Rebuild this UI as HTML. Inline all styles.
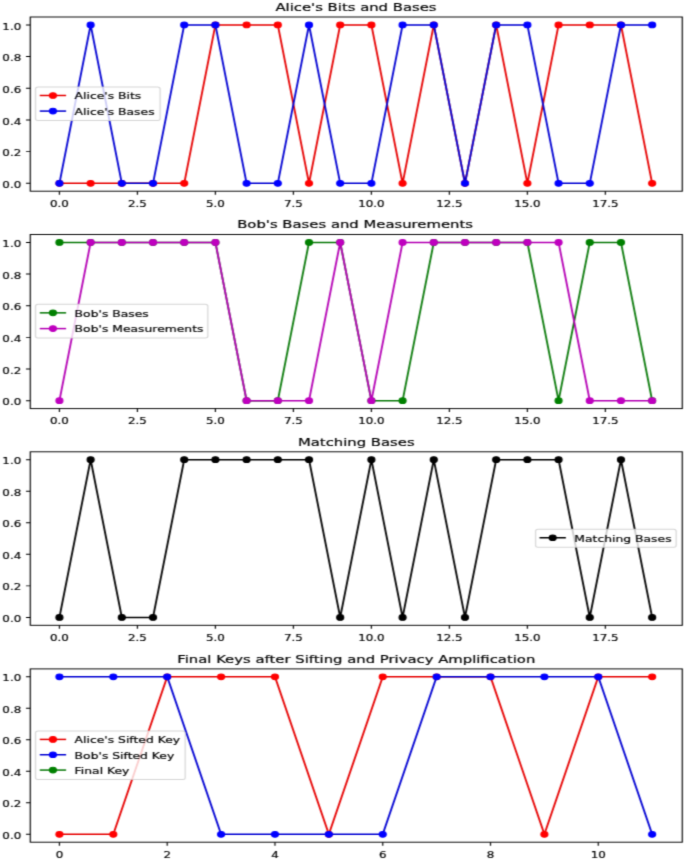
<!DOCTYPE html>
<html lang="en"><head><meta charset="utf-8"><title>BB84 Quantum Key Distribution Plots</title>
<style>
html,body{margin:0;padding:0;background:#fff}
body{width:685px;height:862px;overflow:hidden}
svg{display:block}
svg text{font-family:"DejaVu Sans","Liberation Sans",sans-serif;fill:#000;stroke:#000;stroke-width:0.2}
</style></head><body>
<svg width="685" height="862" viewBox="0 0 559.64 862" preserveAspectRatio="none">
<rect x="0" y="0" width="559.64" height="862" fill="#fff"/>
<filter id="soft" x="0" y="0" width="559.64" height="862" filterUnits="userSpaceOnUse" color-interpolation-filters="sRGB"><feConvolveMatrix order="3" kernelMatrix="0.0260 0.0780 0.0260 0.1480 0.4440 0.1480 0.0260 0.0780 0.0260" edgeMode="duplicate" preserveAlpha="false"/></filter><g filter="url(#soft)">
<g>
<clipPath id="c0"><rect x="24.75" y="17" width="532.68" height="174.2"/></clipPath>
<path d="M48.56 191.2v3.5M112.28 191.2v3.5M175.99 191.2v3.5M239.71 191.2v3.5M303.43 191.2v3.5M367.15 191.2v3.5M430.87 191.2v3.5M494.58 191.2v3.5M24.75 183.28h-3.5M24.75 151.61h-3.5M24.75 119.94h-3.5M24.75 88.26h-3.5M24.75 56.59h-3.5M24.75 24.92h-3.5" stroke="#000" stroke-width="0.95" fill="none"/>
<text transform="translate(48.56 206.9) scale(0.97 0.91)" font-size="10" text-anchor="middle">0.0</text>
<text transform="translate(112.28 206.9) scale(0.97 0.91)" font-size="10" text-anchor="middle">2.5</text>
<text transform="translate(175.99 206.9) scale(0.97 0.91)" font-size="10" text-anchor="middle">5.0</text>
<text transform="translate(239.71 206.9) scale(0.97 0.91)" font-size="10" text-anchor="middle">7.5</text>
<text transform="translate(303.43 206.9) scale(0.97 0.91)" font-size="10" text-anchor="middle">10.0</text>
<text transform="translate(367.15 206.9) scale(0.97 0.91)" font-size="10" text-anchor="middle">12.5</text>
<text transform="translate(430.87 206.9) scale(0.97 0.91)" font-size="10" text-anchor="middle">15.0</text>
<text transform="translate(494.58 206.9) scale(0.97 0.91)" font-size="10" text-anchor="middle">17.5</text>
<text transform="translate(17.35 187.88) scale(0.97 0.91)" font-size="10" text-anchor="end">0.0</text>
<text transform="translate(17.35 156.21) scale(0.97 0.91)" font-size="10" text-anchor="end">0.2</text>
<text transform="translate(17.35 124.54) scale(0.97 0.91)" font-size="10" text-anchor="end">0.4</text>
<text transform="translate(17.35 92.86) scale(0.97 0.91)" font-size="10" text-anchor="end">0.6</text>
<text transform="translate(17.35 61.19) scale(0.97 0.91)" font-size="10" text-anchor="end">0.8</text>
<text transform="translate(17.35 29.52) scale(0.97 0.91)" font-size="10" text-anchor="end">1.0</text>
<g clip-path="url(#c0)">
<path d="M48.56 183.28 L74.05 183.28 L99.53 183.28 L125.02 183.28 L150.51 183.28 L175.99 24.92 L201.48 24.92 L226.97 24.92 L252.46 183.28 L277.94 24.92 L303.43 24.92 L328.92 183.28 L354.4 24.92 L379.89 183.28 L405.38 24.92 L430.87 183.28 L456.35 24.92 L481.84 24.92 L507.33 24.92 L532.81 183.28" stroke="#e60000" stroke-width="1.5" fill="none" stroke-linejoin="round" stroke-linecap="square"/>
<g fill="#ff0000" stroke="#ff0000" stroke-width="1"><circle cx="48.56" cy="183.28" r="2.85"/><circle cx="74.05" cy="183.28" r="2.85"/><circle cx="99.53" cy="183.28" r="2.85"/><circle cx="125.02" cy="183.28" r="2.85"/><circle cx="150.51" cy="183.28" r="2.85"/><circle cx="175.99" cy="24.92" r="2.85"/><circle cx="201.48" cy="24.92" r="2.85"/><circle cx="226.97" cy="24.92" r="2.85"/><circle cx="252.46" cy="183.28" r="2.85"/><circle cx="277.94" cy="24.92" r="2.85"/><circle cx="303.43" cy="24.92" r="2.85"/><circle cx="328.92" cy="183.28" r="2.85"/><circle cx="354.4" cy="24.92" r="2.85"/><circle cx="379.89" cy="183.28" r="2.85"/><circle cx="405.38" cy="24.92" r="2.85"/><circle cx="430.87" cy="183.28" r="2.85"/><circle cx="456.35" cy="24.92" r="2.85"/><circle cx="481.84" cy="24.92" r="2.85"/><circle cx="507.33" cy="24.92" r="2.85"/><circle cx="532.81" cy="183.28" r="2.85"/></g>
<path d="M48.56 183.28 L74.05 24.92 L99.53 183.28 L125.02 183.28 L150.51 24.92 L175.99 24.92 L201.48 183.28 L226.97 183.28 L252.46 24.92 L277.94 183.28 L303.43 183.28 L328.92 24.92 L354.4 24.92 L379.89 183.28 L405.38 24.92 L430.87 24.92 L456.35 183.28 L481.84 183.28 L507.33 24.92 L532.81 24.92" stroke="#0000d2" stroke-width="1.5" fill="none" stroke-linejoin="round" stroke-linecap="square"/>
<g fill="#0000ff" stroke="#0000ff" stroke-width="1"><circle cx="48.56" cy="183.28" r="2.85"/><circle cx="74.05" cy="24.92" r="2.85"/><circle cx="99.53" cy="183.28" r="2.85"/><circle cx="125.02" cy="183.28" r="2.85"/><circle cx="150.51" cy="24.92" r="2.85"/><circle cx="175.99" cy="24.92" r="2.85"/><circle cx="201.48" cy="183.28" r="2.85"/><circle cx="226.97" cy="183.28" r="2.85"/><circle cx="252.46" cy="24.92" r="2.85"/><circle cx="277.94" cy="183.28" r="2.85"/><circle cx="303.43" cy="183.28" r="2.85"/><circle cx="328.92" cy="24.92" r="2.85"/><circle cx="354.4" cy="24.92" r="2.85"/><circle cx="379.89" cy="183.28" r="2.85"/><circle cx="405.38" cy="24.92" r="2.85"/><circle cx="430.87" cy="24.92" r="2.85"/><circle cx="456.35" cy="183.28" r="2.85"/><circle cx="481.84" cy="183.28" r="2.85"/><circle cx="507.33" cy="24.92" r="2.85"/><circle cx="532.81" cy="24.92" r="2.85"/></g>
</g>
<rect x="24.75" y="17" width="532.68" height="174.2" fill="none" stroke="#000" stroke-width="0.95" stroke-linejoin="miter"/>
<text transform="translate(290.85 10.9) scale(1.01 0.91)" font-size="12" text-anchor="middle">Alice's Bits and Bases</text>
<rect x="29.02" y="87" width="101.78" height="33.6" rx="2" ry="2" fill="#fff" fill-opacity="0.8" stroke="#ccc" stroke-opacity="0.8" stroke-width="1"/>
<path d="M33.26 95.48L53.26 95.48" stroke="#e60000" stroke-width="1.5" stroke-linecap="square"/>
<circle cx="43.26" cy="95.48" r="2.85" fill="#ff0000" stroke="#ff0000" stroke-width="1"/>
<path d="M33.26 111.08L53.26 111.08" stroke="#0000d2" stroke-width="1.5" stroke-linecap="square"/>
<circle cx="43.26" cy="111.08" r="2.85" fill="#0000ff" stroke="#0000ff" stroke-width="1"/>
<text transform="translate(60.96 99.3) scale(1.01 0.91)" font-size="10" text-anchor="start">Alice's Bits</text>
<text transform="translate(60.96 114.9) scale(1.01 0.91)" font-size="10" text-anchor="start">Alice's Bases</text>
</g>
<g>
<clipPath id="c1"><rect x="24.75" y="234.5" width="532.68" height="174.1"/></clipPath>
<path d="M48.56 408.6v3.5M112.28 408.6v3.5M175.99 408.6v3.5M239.71 408.6v3.5M303.43 408.6v3.5M367.15 408.6v3.5M430.87 408.6v3.5M494.58 408.6v3.5M24.75 400.69h-3.5M24.75 369.03h-3.5M24.75 337.38h-3.5M24.75 305.72h-3.5M24.75 274.07h-3.5M24.75 242.41h-3.5" stroke="#000" stroke-width="0.95" fill="none"/>
<text transform="translate(48.56 424.3) scale(0.97 0.91)" font-size="10" text-anchor="middle">0.0</text>
<text transform="translate(112.28 424.3) scale(0.97 0.91)" font-size="10" text-anchor="middle">2.5</text>
<text transform="translate(175.99 424.3) scale(0.97 0.91)" font-size="10" text-anchor="middle">5.0</text>
<text transform="translate(239.71 424.3) scale(0.97 0.91)" font-size="10" text-anchor="middle">7.5</text>
<text transform="translate(303.43 424.3) scale(0.97 0.91)" font-size="10" text-anchor="middle">10.0</text>
<text transform="translate(367.15 424.3) scale(0.97 0.91)" font-size="10" text-anchor="middle">12.5</text>
<text transform="translate(430.87 424.3) scale(0.97 0.91)" font-size="10" text-anchor="middle">15.0</text>
<text transform="translate(494.58 424.3) scale(0.97 0.91)" font-size="10" text-anchor="middle">17.5</text>
<text transform="translate(17.35 405.29) scale(0.97 0.91)" font-size="10" text-anchor="end">0.0</text>
<text transform="translate(17.35 373.63) scale(0.97 0.91)" font-size="10" text-anchor="end">0.2</text>
<text transform="translate(17.35 341.98) scale(0.97 0.91)" font-size="10" text-anchor="end">0.4</text>
<text transform="translate(17.35 310.32) scale(0.97 0.91)" font-size="10" text-anchor="end">0.6</text>
<text transform="translate(17.35 278.67) scale(0.97 0.91)" font-size="10" text-anchor="end">0.8</text>
<text transform="translate(17.35 247.01) scale(0.97 0.91)" font-size="10" text-anchor="end">1.0</text>
<g clip-path="url(#c1)">
<path d="M48.56 242.41 L74.05 242.41 L99.53 242.41 L125.02 242.41 L150.51 242.41 L175.99 242.41 L201.48 400.69 L226.97 400.69 L252.46 242.41 L277.94 242.41 L303.43 400.69 L328.92 400.69 L354.4 242.41 L379.89 242.41 L405.38 242.41 L430.87 242.41 L456.35 400.69 L481.84 242.41 L507.33 242.41 L532.81 400.69" stroke="#0a7a0a" stroke-width="1.5" fill="none" stroke-linejoin="round" stroke-linecap="square"/>
<g fill="#008000" stroke="#008000" stroke-width="1"><circle cx="48.56" cy="242.41" r="2.85"/><circle cx="74.05" cy="242.41" r="2.85"/><circle cx="99.53" cy="242.41" r="2.85"/><circle cx="125.02" cy="242.41" r="2.85"/><circle cx="150.51" cy="242.41" r="2.85"/><circle cx="175.99" cy="242.41" r="2.85"/><circle cx="201.48" cy="400.69" r="2.85"/><circle cx="226.97" cy="400.69" r="2.85"/><circle cx="252.46" cy="242.41" r="2.85"/><circle cx="277.94" cy="242.41" r="2.85"/><circle cx="303.43" cy="400.69" r="2.85"/><circle cx="328.92" cy="400.69" r="2.85"/><circle cx="354.4" cy="242.41" r="2.85"/><circle cx="379.89" cy="242.41" r="2.85"/><circle cx="405.38" cy="242.41" r="2.85"/><circle cx="430.87" cy="242.41" r="2.85"/><circle cx="456.35" cy="400.69" r="2.85"/><circle cx="481.84" cy="242.41" r="2.85"/><circle cx="507.33" cy="242.41" r="2.85"/><circle cx="532.81" cy="400.69" r="2.85"/></g>
<path d="M48.56 400.69 L74.05 242.41 L99.53 242.41 L125.02 242.41 L150.51 242.41 L175.99 242.41 L201.48 400.69 L226.97 400.69 L252.46 400.69 L277.94 242.41 L303.43 400.69 L328.92 242.41 L354.4 242.41 L379.89 242.41 L405.38 242.41 L430.87 242.41 L456.35 242.41 L481.84 400.69 L507.33 400.69 L532.81 400.69" stroke="#b400b4" stroke-width="1.5" fill="none" stroke-linejoin="round" stroke-linecap="square"/>
<g fill="#bf00bf" stroke="#bf00bf" stroke-width="1"><circle cx="48.56" cy="400.69" r="2.85"/><circle cx="74.05" cy="242.41" r="2.85"/><circle cx="99.53" cy="242.41" r="2.85"/><circle cx="125.02" cy="242.41" r="2.85"/><circle cx="150.51" cy="242.41" r="2.85"/><circle cx="175.99" cy="242.41" r="2.85"/><circle cx="201.48" cy="400.69" r="2.85"/><circle cx="226.97" cy="400.69" r="2.85"/><circle cx="252.46" cy="400.69" r="2.85"/><circle cx="277.94" cy="242.41" r="2.85"/><circle cx="303.43" cy="400.69" r="2.85"/><circle cx="328.92" cy="242.41" r="2.85"/><circle cx="354.4" cy="242.41" r="2.85"/><circle cx="379.89" cy="242.41" r="2.85"/><circle cx="405.38" cy="242.41" r="2.85"/><circle cx="430.87" cy="242.41" r="2.85"/><circle cx="456.35" cy="242.41" r="2.85"/><circle cx="481.84" cy="400.69" r="2.85"/><circle cx="507.33" cy="400.69" r="2.85"/><circle cx="532.81" cy="400.69" r="2.85"/></g>
</g>
<rect x="24.75" y="234.5" width="532.68" height="174.1" fill="none" stroke="#000" stroke-width="0.95" stroke-linejoin="miter"/>
<text transform="translate(290.11 228.4) scale(1.01 0.91)" font-size="12" text-anchor="middle">Bob's Bases and Measurements</text>
<rect x="29.02" y="304.37" width="140.78" height="33.75" rx="2" ry="2" fill="#fff" fill-opacity="0.8" stroke="#ccc" stroke-opacity="0.8" stroke-width="1"/>
<path d="M33.26 312.85L53.26 312.85" stroke="#0a7a0a" stroke-width="1.5" stroke-linecap="square"/>
<circle cx="43.26" cy="312.85" r="2.85" fill="#008000" stroke="#008000" stroke-width="1"/>
<path d="M33.26 328.6L53.26 328.6" stroke="#b400b4" stroke-width="1.5" stroke-linecap="square"/>
<circle cx="43.26" cy="328.6" r="2.85" fill="#bf00bf" stroke="#bf00bf" stroke-width="1"/>
<text transform="translate(60.96 316.67) scale(1.01 0.91)" font-size="10" text-anchor="start">Bob's Bases</text>
<text transform="translate(60.96 332.42) scale(1.01 0.91)" font-size="10" text-anchor="start">Bob's Measurements</text>
</g>
<g>
<clipPath id="c2"><rect x="24.75" y="451.8" width="532.68" height="173.5"/></clipPath>
<path d="M48.56 625.3v3.5M112.28 625.3v3.5M175.99 625.3v3.5M239.71 625.3v3.5M303.43 625.3v3.5M367.15 625.3v3.5M430.87 625.3v3.5M494.58 625.3v3.5M24.75 617.41h-3.5M24.75 585.87h-3.5M24.75 554.32h-3.5M24.75 522.78h-3.5M24.75 491.23h-3.5M24.75 459.69h-3.5" stroke="#000" stroke-width="0.95" fill="none"/>
<text transform="translate(48.56 641) scale(0.97 0.91)" font-size="10" text-anchor="middle">0.0</text>
<text transform="translate(112.28 641) scale(0.97 0.91)" font-size="10" text-anchor="middle">2.5</text>
<text transform="translate(175.99 641) scale(0.97 0.91)" font-size="10" text-anchor="middle">5.0</text>
<text transform="translate(239.71 641) scale(0.97 0.91)" font-size="10" text-anchor="middle">7.5</text>
<text transform="translate(303.43 641) scale(0.97 0.91)" font-size="10" text-anchor="middle">10.0</text>
<text transform="translate(367.15 641) scale(0.97 0.91)" font-size="10" text-anchor="middle">12.5</text>
<text transform="translate(430.87 641) scale(0.97 0.91)" font-size="10" text-anchor="middle">15.0</text>
<text transform="translate(494.58 641) scale(0.97 0.91)" font-size="10" text-anchor="middle">17.5</text>
<text transform="translate(17.35 622.01) scale(0.97 0.91)" font-size="10" text-anchor="end">0.0</text>
<text transform="translate(17.35 590.47) scale(0.97 0.91)" font-size="10" text-anchor="end">0.2</text>
<text transform="translate(17.35 558.92) scale(0.97 0.91)" font-size="10" text-anchor="end">0.4</text>
<text transform="translate(17.35 527.38) scale(0.97 0.91)" font-size="10" text-anchor="end">0.6</text>
<text transform="translate(17.35 495.83) scale(0.97 0.91)" font-size="10" text-anchor="end">0.8</text>
<text transform="translate(17.35 464.29) scale(0.97 0.91)" font-size="10" text-anchor="end">1.0</text>
<g clip-path="url(#c2)">
<path d="M48.56 617.41 L74.05 459.69 L99.53 617.41 L125.02 617.41 L150.51 459.69 L175.99 459.69 L201.48 459.69 L226.97 459.69 L252.46 459.69 L277.94 617.41 L303.43 459.69 L328.92 617.41 L354.4 459.69 L379.89 617.41 L405.38 459.69 L430.87 459.69 L456.35 459.69 L481.84 617.41 L507.33 459.69 L532.81 617.41" stroke="#000000" stroke-width="1.5" fill="none" stroke-linejoin="round" stroke-linecap="square"/>
<g fill="#000000" stroke="#000000" stroke-width="1"><circle cx="48.56" cy="617.41" r="2.85"/><circle cx="74.05" cy="459.69" r="2.85"/><circle cx="99.53" cy="617.41" r="2.85"/><circle cx="125.02" cy="617.41" r="2.85"/><circle cx="150.51" cy="459.69" r="2.85"/><circle cx="175.99" cy="459.69" r="2.85"/><circle cx="201.48" cy="459.69" r="2.85"/><circle cx="226.97" cy="459.69" r="2.85"/><circle cx="252.46" cy="459.69" r="2.85"/><circle cx="277.94" cy="617.41" r="2.85"/><circle cx="303.43" cy="459.69" r="2.85"/><circle cx="328.92" cy="617.41" r="2.85"/><circle cx="354.4" cy="459.69" r="2.85"/><circle cx="379.89" cy="617.41" r="2.85"/><circle cx="405.38" cy="459.69" r="2.85"/><circle cx="430.87" cy="459.69" r="2.85"/><circle cx="456.35" cy="459.69" r="2.85"/><circle cx="481.84" cy="617.41" r="2.85"/><circle cx="507.33" cy="459.69" r="2.85"/><circle cx="532.81" cy="617.41" r="2.85"/></g>
</g>
<rect x="24.75" y="451.8" width="532.68" height="173.5" fill="none" stroke="#000" stroke-width="0.95" stroke-linejoin="miter"/>
<text transform="translate(291.09 445.7) scale(1.01 0.91)" font-size="12" text-anchor="middle">Matching Bases</text>
<rect x="437.56" y="529.25" width="114.88" height="18" rx="2" ry="2" fill="#fff" fill-opacity="0.8" stroke="#ccc" stroke-opacity="0.8" stroke-width="1"/>
<path d="M441.56 537.75L461.56 537.75" stroke="#000000" stroke-width="1.5" stroke-linecap="square"/>
<circle cx="451.56" cy="537.75" r="2.85" fill="#000000" stroke="#000000" stroke-width="1"/>
<text transform="translate(469.26 541.55) scale(1.01 0.91)" font-size="10" text-anchor="start">Matching Bases</text>
</g>
<g>
<clipPath id="c3"><rect x="24.75" y="668.9" width="532.68" height="173.3"/></clipPath>
<path d="M48.56 842.2v3.5M136.61 842.2v3.5M224.65 842.2v3.5M312.7 842.2v3.5M400.74 842.2v3.5M488.79 842.2v3.5M24.75 834.32h-3.5M24.75 802.81h-3.5M24.75 771.3h-3.5M24.75 739.8h-3.5M24.75 708.29h-3.5M24.75 676.78h-3.5" stroke="#000" stroke-width="0.95" fill="none"/>
<text transform="translate(48.56 857.9) scale(0.97 0.91)" font-size="10" text-anchor="middle">0</text>
<text transform="translate(136.61 857.9) scale(0.97 0.91)" font-size="10" text-anchor="middle">2</text>
<text transform="translate(224.65 857.9) scale(0.97 0.91)" font-size="10" text-anchor="middle">4</text>
<text transform="translate(312.7 857.9) scale(0.97 0.91)" font-size="10" text-anchor="middle">6</text>
<text transform="translate(400.74 857.9) scale(0.97 0.91)" font-size="10" text-anchor="middle">8</text>
<text transform="translate(488.79 857.9) scale(0.97 0.91)" font-size="10" text-anchor="middle">10</text>
<text transform="translate(17.35 838.92) scale(0.97 0.91)" font-size="10" text-anchor="end">0.0</text>
<text transform="translate(17.35 807.41) scale(0.97 0.91)" font-size="10" text-anchor="end">0.2</text>
<text transform="translate(17.35 775.9) scale(0.97 0.91)" font-size="10" text-anchor="end">0.4</text>
<text transform="translate(17.35 744.4) scale(0.97 0.91)" font-size="10" text-anchor="end">0.6</text>
<text transform="translate(17.35 712.89) scale(0.97 0.91)" font-size="10" text-anchor="end">0.8</text>
<text transform="translate(17.35 681.38) scale(0.97 0.91)" font-size="10" text-anchor="end">1.0</text>
<g clip-path="url(#c3)">
<path d="M48.56 834.32 L92.58 834.32 L136.61 676.78 L180.63 676.78 L224.65 676.78 L268.67 834.32 L312.7 676.78 L356.72 676.78 L400.74 676.78 L444.77 834.32 L488.79 676.78 L532.81 676.78" stroke="#e60000" stroke-width="1.5" fill="none" stroke-linejoin="round" stroke-linecap="square"/>
<g fill="#ff0000" stroke="#ff0000" stroke-width="1"><circle cx="48.56" cy="834.32" r="2.85"/><circle cx="92.58" cy="834.32" r="2.85"/><circle cx="136.61" cy="676.78" r="2.85"/><circle cx="180.63" cy="676.78" r="2.85"/><circle cx="224.65" cy="676.78" r="2.85"/><circle cx="268.67" cy="834.32" r="2.85"/><circle cx="312.7" cy="676.78" r="2.85"/><circle cx="356.72" cy="676.78" r="2.85"/><circle cx="400.74" cy="676.78" r="2.85"/><circle cx="444.77" cy="834.32" r="2.85"/><circle cx="488.79" cy="676.78" r="2.85"/><circle cx="532.81" cy="676.78" r="2.85"/></g>
<path d="M48.56 676.78 L92.58 676.78 L136.61 676.78 L180.63 834.32 L224.65 834.32 L268.67 834.32 L312.7 834.32 L356.72 676.78 L400.74 676.78 L444.77 676.78 L488.79 676.78 L532.81 834.32" stroke="#0000d2" stroke-width="1.5" fill="none" stroke-linejoin="round" stroke-linecap="square"/>
<g fill="#0000ff" stroke="#0000ff" stroke-width="1"><circle cx="48.56" cy="676.78" r="2.85"/><circle cx="92.58" cy="676.78" r="2.85"/><circle cx="136.61" cy="676.78" r="2.85"/><circle cx="180.63" cy="834.32" r="2.85"/><circle cx="224.65" cy="834.32" r="2.85"/><circle cx="268.67" cy="834.32" r="2.85"/><circle cx="312.7" cy="834.32" r="2.85"/><circle cx="356.72" cy="676.78" r="2.85"/><circle cx="400.74" cy="676.78" r="2.85"/><circle cx="444.77" cy="676.78" r="2.85"/><circle cx="488.79" cy="676.78" r="2.85"/><circle cx="532.81" cy="834.32" r="2.85"/></g>
</g>
<rect x="24.75" y="668.9" width="532.68" height="173.3" fill="none" stroke="#000" stroke-width="0.95" stroke-linejoin="miter"/>
<text transform="translate(291.09 662.8) scale(1.01 0.91)" font-size="12" text-anchor="middle">Final Keys after Sifting and Privacy Amplification</text>
<rect x="29.02" y="730.92" width="122.28" height="48.66" rx="2" ry="2" fill="#fff" fill-opacity="0.8" stroke="#ccc" stroke-opacity="0.8" stroke-width="1"/>
<path d="M33.26 739.41L53.26 739.41" stroke="#e60000" stroke-width="1.5" stroke-linecap="square"/>
<circle cx="43.26" cy="739.41" r="2.85" fill="#ff0000" stroke="#ff0000" stroke-width="1"/>
<path d="M33.26 754.74L53.26 754.74" stroke="#0000d2" stroke-width="1.5" stroke-linecap="square"/>
<circle cx="43.26" cy="754.74" r="2.85" fill="#0000ff" stroke="#0000ff" stroke-width="1"/>
<path d="M33.26 770.07L53.26 770.07" stroke="#0a7a0a" stroke-width="1.5" stroke-linecap="square"/>
<circle cx="43.26" cy="770.07" r="2.85" fill="#008000" stroke="#008000" stroke-width="1"/>
<text transform="translate(60.96 743.22) scale(1.01 0.91)" font-size="10" text-anchor="start">Alice's Sifted Key</text>
<text transform="translate(60.96 758.55) scale(1.01 0.91)" font-size="10" text-anchor="start">Bob's Sifted Key</text>
<text transform="translate(60.96 773.88) scale(1.01 0.91)" font-size="10" text-anchor="start">Final Key</text>
</g>
</g>
</svg>
</body></html>
